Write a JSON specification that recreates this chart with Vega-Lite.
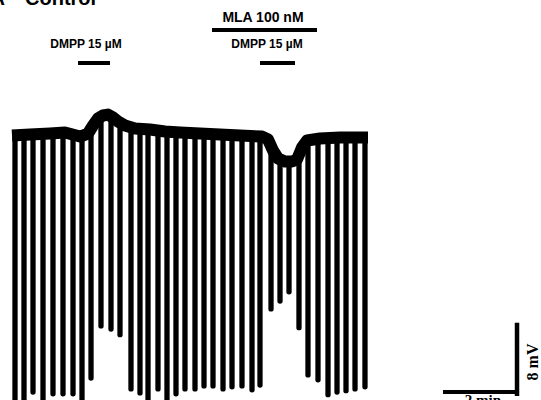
{
  "$schema": "https://vega.github.io/schema/vega-lite/v6.json",
  "width": 541,
  "height": 400,
  "padding": 0,
  "autosize": {"type": "none"},
  "background": "white",
  "config": {"view": {"stroke": null}},
  "datasets": {
    "spikes": [
      {"t": 0.40, "top": -15.49, "bottom": -46.0},
      {"t": 0.64, "top": -15.43, "bottom": -46.0},
      {"t": 0.88, "top": -15.37, "bottom": -44.8},
      {"t": 1.147, "top": -15.31, "bottom": -46.0},
      {"t": 1.413, "top": -15.26, "bottom": -45.0},
      {"t": 1.68, "top": -15.2, "bottom": -45.0},
      {"t": 1.947, "top": -15.43, "bottom": -45.0},
      {"t": 2.187, "top": -15.54, "bottom": -46.0},
      {"t": 2.427, "top": -14.86, "bottom": -43.2},
      {"t": 2.693, "top": -13.37, "bottom": -37.25},
      {"t": 2.96, "top": -13.14, "bottom": -37.6},
      {"t": 3.20, "top": -13.94, "bottom": -38.25},
      {"t": 3.493, "top": -14.51, "bottom": -44.45},
      {"t": 3.733, "top": -14.74, "bottom": -44.9},
      {"t": 3.947, "top": -14.8, "bottom": -46.0},
      {"t": 4.213, "top": -14.91, "bottom": -44.45},
      {"t": 4.453, "top": -15.03, "bottom": -46.0},
      {"t": 4.693, "top": -15.09, "bottom": -45.0},
      {"t": 4.933, "top": -15.14, "bottom": -44.45},
      {"t": 5.20, "top": -15.2, "bottom": -44.45},
      {"t": 5.44, "top": -15.26, "bottom": -44.1},
      {"t": 5.68, "top": -15.31, "bottom": -44.1},
      {"t": 5.947, "top": -15.37, "bottom": -44.45},
      {"t": 6.187, "top": -15.43, "bottom": -44.2},
      {"t": 6.453, "top": -15.49, "bottom": -44.1},
      {"t": 6.72, "top": -15.54, "bottom": -44.55},
      {"t": 6.933, "top": -15.6, "bottom": -44.0},
      {"t": 7.227, "top": -16.69, "bottom": -35.3},
      {"t": 7.467, "top": -18.17, "bottom": -34.4},
      {"t": 7.707, "top": -18.46, "bottom": -33.35},
      {"t": 7.973, "top": -17.71, "bottom": -37.45},
      {"t": 8.213, "top": -16.0, "bottom": -42.85},
      {"t": 8.48, "top": -15.83, "bottom": -43.4},
      {"t": 8.747, "top": -15.77, "bottom": -45.1},
      {"t": 8.987, "top": -15.71, "bottom": -44.8},
      {"t": 9.227, "top": -15.71, "bottom": -44.65},
      {"t": 9.467, "top": -15.71, "bottom": -44.45},
      {"t": 9.733, "top": -15.71, "bottom": -44.2}
    ],
    "trace": [
      {"t": 0.32, "v": -15.49},
      {"t": 0.8, "v": -15.37},
      {"t": 1.333, "v": -15.26},
      {"t": 1.733, "v": -15.14},
      {"t": 2.133, "v": -15.6},
      {"t": 2.347, "v": -15.26},
      {"t": 2.48, "v": -14.34},
      {"t": 2.613, "v": -13.54},
      {"t": 2.747, "v": -13.2},
      {"t": 2.88, "v": -13.09},
      {"t": 3.013, "v": -13.43},
      {"t": 3.147, "v": -13.89},
      {"t": 3.333, "v": -14.34},
      {"t": 3.6, "v": -14.69},
      {"t": 4.0, "v": -14.8},
      {"t": 4.4, "v": -15.03},
      {"t": 4.8, "v": -15.14},
      {"t": 5.333, "v": -15.26},
      {"t": 5.867, "v": -15.37},
      {"t": 6.4, "v": -15.49},
      {"t": 6.987, "v": -15.6},
      {"t": 7.147, "v": -15.94},
      {"t": 7.28, "v": -17.2},
      {"t": 7.413, "v": -18.11},
      {"t": 7.6, "v": -18.46},
      {"t": 7.787, "v": -18.46},
      {"t": 7.92, "v": -18.23},
      {"t": 8.053, "v": -16.86},
      {"t": 8.187, "v": -16.06},
      {"t": 8.533, "v": -15.83},
      {"t": 9.067, "v": -15.71},
      {"t": 9.813, "v": -15.71}
    ],
    "bars": [
      {"name": "MLA", "t1": 5.653, "t2": 8.453, "v": -3.43},
      {"name": "DMPP1", "t1": 2.08, "t2": 2.933, "v": -7.2},
      {"name": "DMPP2", "t1": 6.933, "t2": 7.867, "v": -7.2},
      {"name": "time scale", "t1": 11.813, "t2": 13.813, "v": -44.8}
    ],
    "vscale": [
      {"t": 13.787, "v1": -37.14, "v2": -45.0}
    ],
    "drugLabels": [
      {"t": 2.293, "v": -5.49, "label": "DMPP 15 µM"},
      {"t": 7.12, "v": -5.49, "label": "DMPP 15 µM"}
    ],
    "mlaLabel": [
      {"t": 7.013, "v": -2.51, "label": "MLA 100 nM"}
    ],
    "scaleX": [
      {"t": 12.88, "v": -44.9, "label": "2 min"}
    ],
    "scaleY": [
      {"t": 14.22, "v": -41.37, "label": "8 mV"}
    ],
    "panelA": [
      {"t": 0.133, "v": -0.571, "label": "A"}
    ],
    "panelTitle": [
      {"t": 0.667, "v": -0.571, "label": "Control"}
    ]
  },
  "layer": [
    {
      "data": {"name": "trace"},
      "mark": {"type": "line", "color": "black", "strokeWidth": 12, "strokeJoin": "round", "strokeCap": "butt", "clip": true},
      "encoding": {
        "x": {"field": "t", "type": "quantitative", "scale": {"domain": [0, 14.4267], "nice": false, "zero": false}, "axis": null},
        "y": {"field": "v", "type": "quantitative", "scale": {"domain": [-45.714, 0], "nice": false, "zero": false}, "axis": null},
        "order": {"field": "t"}
      }
    },
    {
      "data": {"name": "spikes"},
      "mark": {"type": "rule", "color": "black", "strokeWidth": 5.3, "strokeCap": "round", "clip": true},
      "encoding": {
        "x": {"field": "t", "type": "quantitative"},
        "y": {"field": "top", "type": "quantitative"},
        "y2": {"field": "bottom"}
      }
    },
    {
      "data": {"name": "bars"},
      "mark": {"type": "rule", "color": "black", "strokeWidth": 4, "clip": true},
      "encoding": {
        "x": {"field": "t1", "type": "quantitative"},
        "x2": {"field": "t2"},
        "y": {"field": "v", "type": "quantitative"}
      }
    },
    {
      "data": {"name": "vscale"},
      "mark": {"type": "rule", "color": "black", "strokeWidth": 4.5, "strokeCap": "square", "clip": true},
      "encoding": {
        "x": {"field": "t", "type": "quantitative"},
        "y": {"field": "v1", "type": "quantitative"},
        "y2": {"field": "v2"}
      }
    },
    {
      "data": {"name": "drugLabels"},
      "mark": {"type": "text", "font": "Liberation Sans", "fontWeight": "bold", "fontSize": 12, "align": "center", "baseline": "alphabetic", "color": "black"},
      "encoding": {
        "x": {"field": "t", "type": "quantitative"},
        "y": {"field": "v", "type": "quantitative"},
        "text": {"field": "label"}
      }
    },
    {
      "data": {"name": "mlaLabel"},
      "mark": {"type": "text", "font": "Liberation Sans", "fontWeight": "bold", "fontSize": 14, "align": "center", "baseline": "alphabetic", "color": "black"},
      "encoding": {
        "x": {"field": "t", "type": "quantitative"},
        "y": {"field": "v", "type": "quantitative"},
        "text": {"field": "label"}
      }
    },
    {
      "data": {"name": "scaleX"},
      "mark": {"type": "text", "font": "Liberation Serif", "fontWeight": "bold", "fontSize": 15, "align": "center", "baseline": "top", "color": "black"},
      "encoding": {
        "x": {"field": "t", "type": "quantitative"},
        "y": {"field": "v", "type": "quantitative"},
        "text": {"field": "label"}
      }
    },
    {
      "data": {"name": "scaleY"},
      "mark": {"type": "text", "font": "Liberation Serif", "fontWeight": "bold", "fontSize": 16, "align": "center", "baseline": "middle", "angle": 270, "color": "black"},
      "encoding": {
        "x": {"field": "t", "type": "quantitative"},
        "y": {"field": "v", "type": "quantitative"},
        "text": {"field": "label"}
      }
    },
    {
      "data": {"name": "panelA"},
      "mark": {"type": "text", "font": "Liberation Sans", "fontWeight": "bold", "fontSize": 20, "align": "right", "baseline": "alphabetic", "color": "black"},
      "encoding": {
        "x": {"field": "t", "type": "quantitative"},
        "y": {"field": "v", "type": "quantitative"},
        "text": {"field": "label"}
      }
    },
    {
      "data": {"name": "panelTitle"},
      "mark": {"type": "text", "font": "Liberation Sans", "fontWeight": "bold", "fontSize": 20, "align": "left", "baseline": "alphabetic", "color": "black"},
      "encoding": {
        "x": {"field": "t", "type": "quantitative"},
        "y": {"field": "v", "type": "quantitative"},
        "text": {"field": "label"}
      }
    }
  ]
}
